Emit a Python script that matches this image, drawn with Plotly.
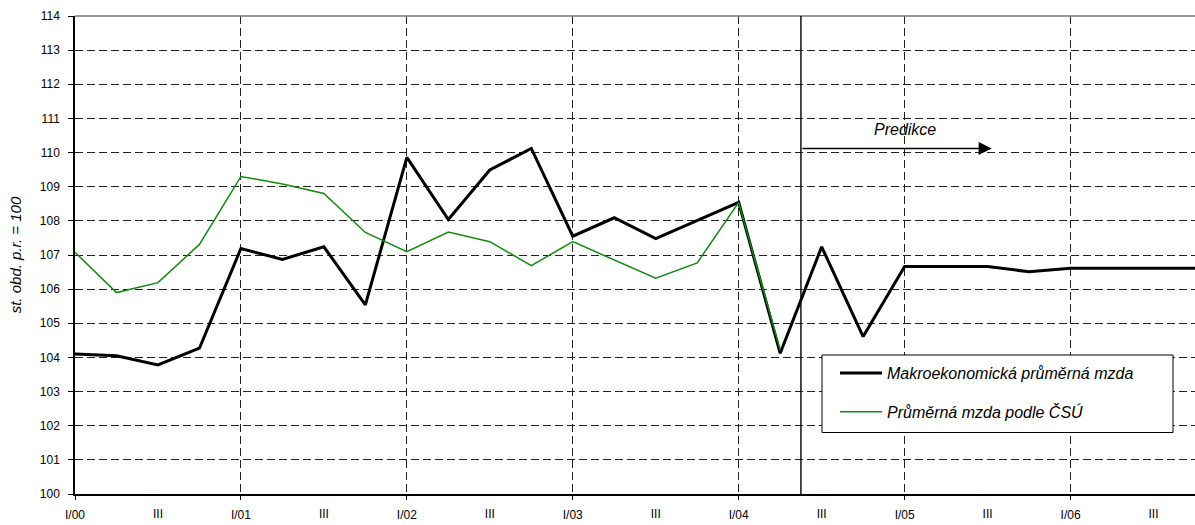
import plotly.graph_objects as go

quarters = [f"{q}/{y:02d}" for y in range(0, 7) for q in ["I", "II", "III", "IV"]]
x_idx = list(range(len(quarters)))

makro = [104.10, 104.05, 103.78, 104.27, 107.19, 106.87, 107.24, 105.54,
         109.86, 108.04, 109.49, 110.12, 107.55, 108.09, 107.48, 108.00,
         108.54, 104.12, 107.24, 104.61, 106.66, 106.66, 106.66, 106.51,
         106.61, 106.61, 106.61, 106.61]
csu = [107.08, 105.90, 106.19, 107.31, 109.30, 109.08, 108.80, 107.66,
       107.10, 107.67, 107.39, 106.69, 107.39, 106.85, 106.32, 106.77,
       108.54, 104.22]

major_vals = [0, 4, 8, 12, 16, 20, 24]
major_text = ["I/00", "I/01", "I/02", "I/03", "I/04", "I/05", "I/06"]
minor_vals = [2, 6, 10, 14, 18, 22, 26]
minor_text = ["III"] * 7

pred_start = 17.5
pred_arrow_end = 22.1
pred_level = 110.12

FONT = "Liberation Sans, Arial, sans-serif"

fig = go.Figure()
fig.add_trace(go.Scatter(
    x=x_idx[:len(makro)], y=makro, mode="lines",
    name="Makroekonomická průměrná mzda",
    line=dict(color="#000000", width=3),
    legendgroup="a"))
fig.add_trace(go.Scatter(
    x=x_idx[:len(csu)], y=csu, mode="lines",
    name="Průměrná mzda podle ČSÚ",
    line=dict(color="#108a10", width=1.5),
    legendgroup="b"))
# helper trace to activate the secondary label axis
fig.add_trace(go.Scatter(x=[0], y=[None], xaxis="x2", yaxis="y",
                         showlegend=False, hoverinfo="skip", mode="lines"))

grid_col = "#222222"
fig.update_layout(
    width=1195, height=525,
    margin=dict(l=75, r=0, t=16, b=31),
    paper_bgcolor="white", plot_bgcolor="white",
    font=dict(family=FONT, size=12, color="black"),
    xaxis=dict(
        range=[0, 27], tickmode="array", tickvals=major_vals, ticktext=major_text,
        showgrid=True, gridcolor=grid_col, griddash="8px,4px", gridwidth=1,
        showline=True, linecolor="black", linewidth=1.5,
        ticks="outside", ticklen=4, tickcolor="black",
        ticklabelstandoff=5, zeroline=False,
        tickfont=dict(size=12, family=FONT)),
    xaxis2=dict(
        range=[0, 27], overlaying="x", anchor="y", side="bottom",
        tickmode="array", tickvals=minor_vals, ticktext=minor_text,
        showgrid=False, showline=False, zeroline=False,
        ticks="outside", ticklen=4, tickcolor="rgba(0,0,0,0)",
        ticklabelstandoff=5, tickfont=dict(size=12, family=FONT)),
    yaxis=dict(
        range=[100, 114], dtick=1, tick0=100,
        showgrid=True, gridcolor=grid_col, griddash="8px,4px", gridwidth=1,
        showline=True, linecolor="black", linewidth=1.5,
        ticks="outside", ticklen=5, tickcolor="black", zeroline=False,
        ticklabelstandoff=6,
        tickfont=dict(size=12, family=FONT),
        title=dict(text="st. obd. p.r. = 100", standoff=15,
                   font=dict(size=15, family=FONT, style="italic"))),
    showlegend=True,
    legend=dict(
        x=(835 - 75) / 1120, y=(494 - 356) / 478, xanchor="left", yanchor="top",
        bgcolor="rgba(0,0,0,0)", borderwidth=0,
        traceorder="grouped", tracegroupgap=15, itemwidth=42,
        font=dict(size=16, family=FONT, style="italic", color="black")),
    shapes=[
        dict(type="line", xref="paper", yref="paper", x0=0, x1=1, y0=1, y1=1,
             line=dict(color="#777777", width=1.5), layer="above"),
        dict(type="line", xref="x", yref="paper", x0=pred_start, x1=pred_start,
             y0=0, y1=1, line=dict(color="#111111", width=1.5), layer="above"),
        dict(type="rect", xref="paper", yref="paper",
             x0=(822 - 75) / 1120, x1=(1173 - 75) / 1120,
             y0=(494 - 432.5) / 478, y1=(494 - 355) / 478,
             fillcolor="white", line=dict(color="black", width=1), layer="above"),
    ],
    annotations=[
        dict(x=pred_arrow_end, y=pred_level, ax=pred_start, ay=pred_level,
             xref="x", yref="y", axref="x", ayref="y", text="",
             showarrow=True, arrowhead=2, arrowsize=1.75, arrowwidth=1.5,
             arrowcolor="black"),
        dict(x=20.0, y=110.68, xref="x", yref="y", text="Predikce",
             showarrow=False, font=dict(size=16, family=FONT, style="italic",
                                        color="black")),
    ],
)

fig.write_html("out.html", config={"displayModeBar": False},
               post_script="document.body.style.margin='0px';")
